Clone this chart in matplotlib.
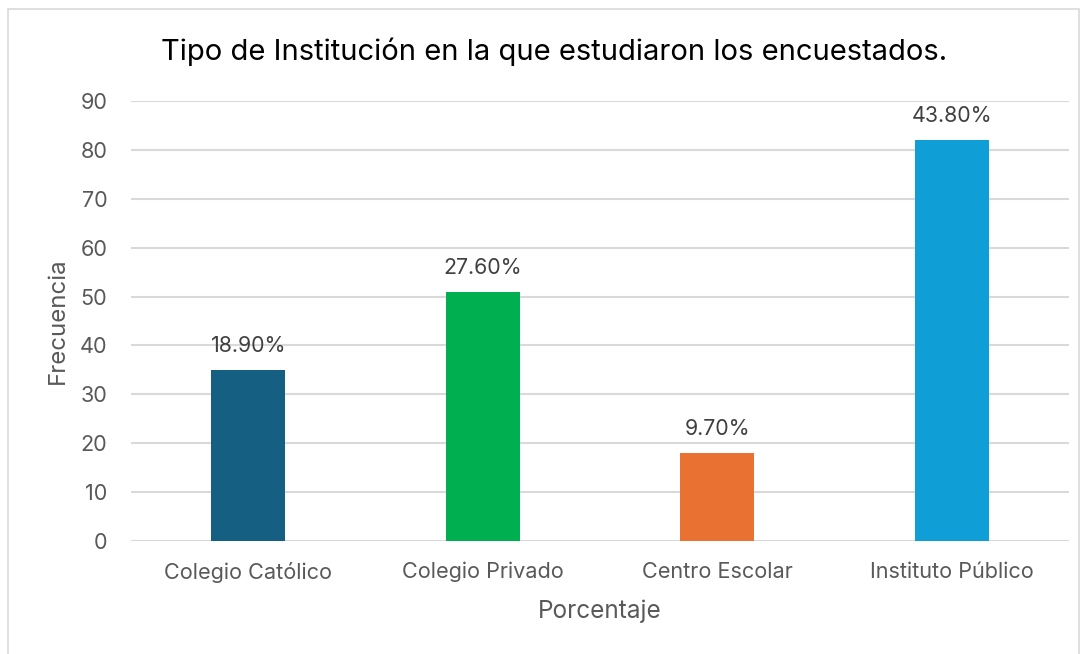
import matplotlib.pyplot as plt
from matplotlib.patches import Rectangle

# Datos de la gráfica
instituciones = ['Colegio Católico', 'Colegio Privado', 'Centro Escolar', 'Instituto Público']
frecuencias = [35, 51, 18, 82]
porcentajes = ['18.90%', '27.60%', '9.70%', '43.80%']
colores = ['#156082', '#00B050', '#E97132', '#0F9ED5']

plt.rcParams['font.family'] = ['Inter', 'DejaVu Sans']

fig = plt.figure(figsize=(10.89, 6.54), dpi=100)
ax = fig.add_axes([131 / 1089, 1 - 541 / 654, 938 / 1089, 440 / 654])

x = range(len(instituciones))
barras = ax.bar(x, frecuencias, width=0.316, color=colores, zorder=3)

for b, p in zip(barras, porcentajes):
    ax.annotate(p, (b.get_x() + b.get_width() / 2, b.get_height()),
                xytext=(0, 10), textcoords='offset points',
                ha='center', va='bottom', fontsize=15.4, color='#404040')

ax.set_xlim(-0.5, 3.5)
ax.set_ylim(0, 90)
ax.set_yticks(range(0, 91, 10))
ax.set_xticks(list(x))
ax.set_xticklabels(instituciones)
ax.tick_params(axis='both', length=0, labelsize=15.6, colors='#595959')
ax.tick_params(axis='y', pad=17)
ax.tick_params(axis='x', pad=15)
ax.grid(axis='y', color='#D9D9D9', linewidth=1.5, zorder=0)
for s in ax.spines.values():
    s.set_visible(False)

ax.set_xlabel('Porcentaje', fontsize=17.5, color='#595959', labelpad=12)
ax.set_ylabel('Frecuencia', fontsize=17.3, color='#595959', labelpad=8)

fig.text(554 / 1089, 1 - 52 / 654, 'Tipo de Institución en la que estudiaron los encuestados.',
         ha='center', va='center', fontsize=21, color='black')

# Borde del gráfico
fig.patches.append(Rectangle((8 / 1089, -0.05), 1071 / 1089, 1.05 - 9 / 654,
                             transform=fig.transFigure, fill=False,
                             edgecolor='#D9D9D9', linewidth=1.2))

fig.savefig('out.png', dpi=100)
